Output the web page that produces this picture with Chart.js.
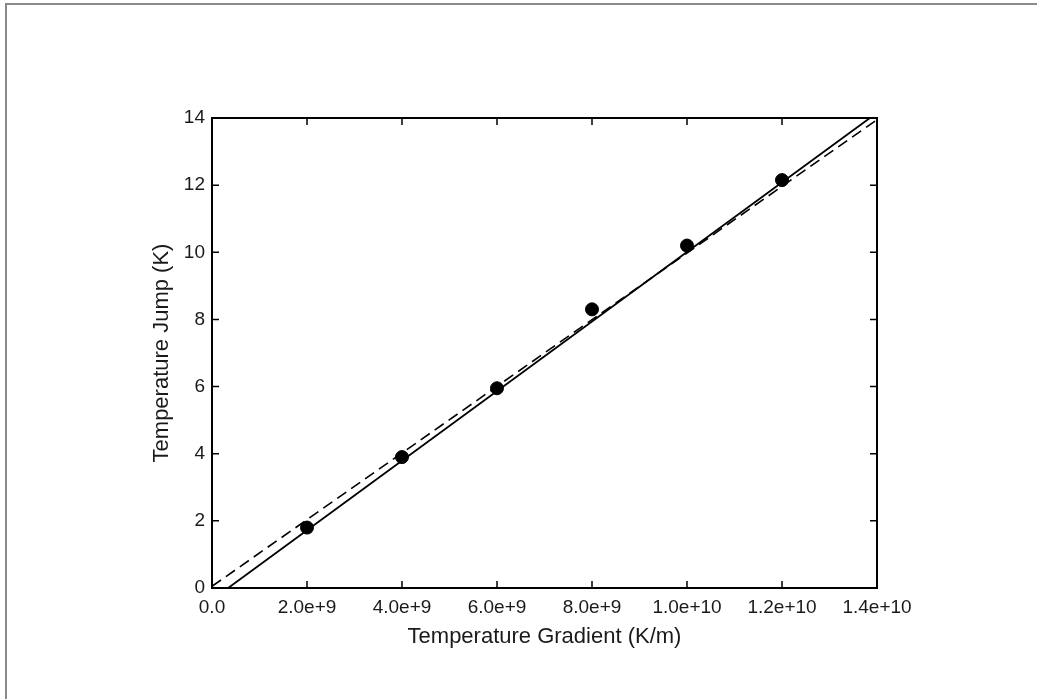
<!DOCTYPE html>
<html>
<head>
<meta charset="utf-8">
<script src="https://cdn.jsdelivr.net/npm/chart.js@4.4.1/dist/chart.umd.min.js"></script>
<style>
  body { margin: 0; background: #fff; }
  #frame { position: absolute; left: 5px; top: 3px; width: 1040px; height: 710px;
           border-top: 2px solid #8a8a8a; border-left: 2px solid #8a8a8a; }
  #wrap { position: absolute; left: 0; top: 0; width: 1037px; height: 699px; }
</style>
</head>
<body>
<div id="frame"></div>
<div id="wrap"><canvas id="chart" width="1037" height="699"></canvas></div>
<script>
// measured points
var gradient = [2.0e9, 4.0e9, 6.0e9, 8.0e9, 1.0e10, 1.2e10];
var jump = [1.8, 3.9, 5.95, 8.3, 10.2, 12.15];

// fit lines (end points)
var solidX = [0.34e9, 1.385e10];
var solidY = [0, 14];
var dashX = [0, 1.4e10];
var dashY = [0.05, 13.95];

var xTicks = [0, 2e9, 4e9, 6e9, 8e9, 1e10, 1.2e10, 1.4e10];
var yTicks = [0, 2, 4, 6, 8, 10, 12, 14];

function pts(xs, ys) {
  return xs.map(function (x, i) { return { x: x, y: ys[i] }; });
}

// frame + inward ticks on all four sides
var frameTicks = {
  id: "frameTicks",
  afterDraw: function (chart) {
    var ctx = chart.ctx, a = chart.chartArea;
    var xs = chart.scales.x, ys = chart.scales.y;
    var len = 7;
    ctx.save();
    ctx.strokeStyle = "#000";
    ctx.lineWidth = 1.5;
    ctx.beginPath();
    xTicks.forEach(function (v) {
      var px = xs.getPixelForValue(v);
      ctx.moveTo(px, a.bottom); ctx.lineTo(px, a.bottom - len);
      ctx.moveTo(px, a.top); ctx.lineTo(px, a.top + len);
    });
    yTicks.forEach(function (v) {
      var py = ys.getPixelForValue(v);
      ctx.moveTo(a.left, py); ctx.lineTo(a.left + len, py);
      ctx.moveTo(a.right, py); ctx.lineTo(a.right - len, py);
    });
    ctx.stroke();
    ctx.lineWidth = 2;
    ctx.strokeRect(a.left, a.top, a.right - a.left, a.bottom - a.top);
    ctx.restore();
  }
};

var tickFont = { family: "'Liberation Sans', Arial, sans-serif", size: 19 };
var titleFont = { family: "'Liberation Sans', Arial, sans-serif", size: 22 };

new Chart("chart", {
  type: "scatter",
  data: {
    datasets: [
      {
        label: "Data",
        data: pts(gradient, jump),
        backgroundColor: "#000",
        borderColor: "#000",
        pointRadius: 6.5,
        pointHoverRadius: 6.5,
      },
      {
        label: "Fit",
        type: "line",
        data: pts(solidX, solidY),
        borderColor: "#000",
        borderWidth: 1.8,
        pointRadius: 0,
        fill: false,
      },
      {
        label: "Model",
        type: "line",
        data: pts(dashX, dashY),
        borderColor: "#000",
        borderWidth: 1.6,
        borderDash: [11, 6],
        pointRadius: 0,
        fill: false,
      },
    ],
  },
  options: {
    responsive: false,
    animation: false,
    layout: { padding: { left: 145, right: 160, top: 118, bottom: 45 } },
    plugins: {
      legend: { display: false },
      tooltip: { enabled: false },
    },
    scales: {
      x: {
        type: "linear",
        min: 0,
        max: 1.4e10,
        afterFit: function (s) { s.height = 66; },
        afterBuildTicks: function (s) { s.ticks = xTicks.map(function (v) { return { value: v }; }); },
        grid: { display: false, drawTicks: false },
        border: { display: false },
        ticks: {
          padding: 8,
          color: "#1a1a1a",
          font: tickFont,
          maxRotation: 0,
          callback: function (v) { return v === 0 ? "0.0" : Number(v).toExponential(1); },
        },
        title: { display: true, text: "Temperature Gradient (K/m)", color: "#1a1a1a", font: titleFont },
      },
      y: {
        min: 0,
        max: 14,
        afterFit: function (s) { s.width = 67; },
        afterBuildTicks: function (s) { s.ticks = yTicks.map(function (v) { return { value: v }; }); },
        grid: { display: false, drawTicks: false },
        border: { display: false },
        ticks: { padding: 7, color: "#1a1a1a", font: tickFont },
        title: { display: true, text: "Temperature Jump (K)", color: "#1a1a1a", font: titleFont },
      },
    },
  },
  plugins: [frameTicks],
});
</script>
</body>
</html>
